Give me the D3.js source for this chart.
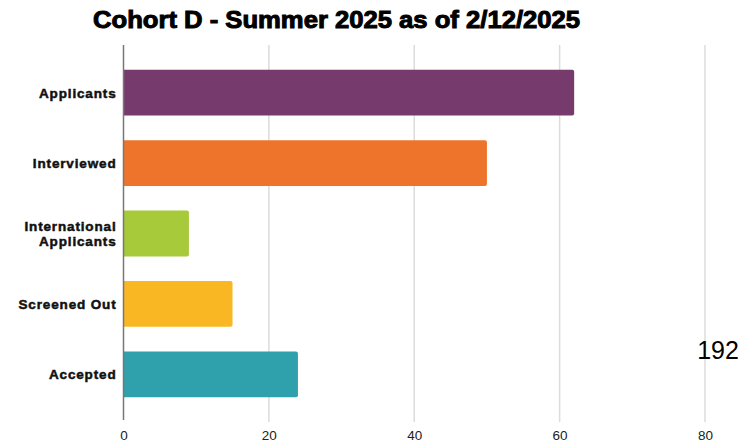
<!DOCTYPE html>
<html>
<head>
<meta charset="utf-8">
<script src="https://cdn.jsdelivr.net/npm/d3@7"></script>
<style>
    body { margin: 0; background: #fff; }
    svg { display: block; }
</style>
</head>
<body>
<div id="chart"></div>
<script>
// Chart data
const categories = ['Applicants', 'Interviewed', 'International Applicants', 'Screened Out', 'Accepted'];
const values = [62, 50, 9, 15, 24];
const barColors = ['#773A6C', '#EF742B', '#A7CA3B', '#FAB724', '#2EA1AC'];
const xTicks = [0, 20, 40, 60, 80];
const titleText = 'Cohort D - Summer 2025 as of 2/12/2025';
const cornerNote = '192';

const width = 742;
const height = 443;
const margin = { top: 45, right: 37, bottom: 21, left: 123.5 };

const svg = d3.select('#chart')
    .append('svg')
    .attr('width', width)
    .attr('height', height);

// Scales
const x = d3.scaleLinear()
    .domain([0, 80])
    .range([margin.left, width - margin.right]);

const y = d3.scaleBand()
    .domain(categories)
    .range([margin.top, height - margin.bottom])
    .padding(0.35);

// Grid
svg.append('g')
    .selectAll('line')
    .data(xTicks.filter(d => d !== 0))
    .join('line')
    .attr('x1', d => x(d))
    .attr('x2', d => x(d))
    .attr('y1', margin.top)
    .attr('y2', height - margin.bottom)
    .attr('stroke', '#dcdcdc')
    .attr('stroke-width', 1.5);

// Bars, rounded on the right end only
const r = 2;
svg.append('g')
    .selectAll('path')
    .data(values)
    .join('path')
    .attr('fill', (d, i) => barColors[i])
    .attr('d', (d, i) => {
        const x0 = x(0), x1 = x(d);
        const y0 = y(categories[i]), h = y.bandwidth();
        return `M${x0},${y0}H${x1 - r}Q${x1},${y0} ${x1},${y0 + r}` +
            `V${y0 + h - r}Q${x1},${y0 + h} ${x1 - r},${y0 + h}H${x0}Z`;
    });

// Zero axis line
svg.append('line')
    .attr('x1', x(0))
    .attr('x2', x(0))
    .attr('y1', margin.top)
    .attr('y2', height - margin.bottom - 2)
    .attr('stroke', '#777')
    .attr('stroke-width', 1.5);

// X axis tick labels
svg.append('g')
    .attr('transform', `translate(0,${height - margin.bottom})`)
    .call(d3.axisBottom(x).tickValues(xTicks).tickSize(0).tickPadding(8))
    .call(g => g.select('.domain').remove())
    .selectAll('text')
    .attr('font-family', '"Liberation Sans", Arial, sans-serif')
    .attr('font-size', 13.5)
    .attr('fill', '#222');

// Category labels
const labels = svg.append('g')
    .selectAll('text')
    .data(categories)
    .join('text')
    .attr('text-anchor', 'end')
    .attr('font-family', '"Liberation Sans", Arial, sans-serif')
    .attr('font-weight', 'bold')
    .attr('font-size', 13.5)
    .attr('letter-spacing', 0.85)
    .attr('fill', '#111')
    .attr('stroke', '#111')
    .attr('stroke-width', 0.5);

labels.each(function(d) {
    const cy = y(d) + y.bandwidth() / 2;
    const words = d === 'International Applicants' ? ['International', 'Applicants'] : [d];
    const t = d3.select(this);
    words.forEach((w, k) => {
        t.append('tspan')
            .attr('x', x(0) - 7)
            .attr('y', cy + 5 + (k - (words.length - 1) / 2) * 14.5)
            .text(w);
    });
});

// Title
svg.append('text')
    .attr('x', 336.5)
    .attr('y', 28)
    .attr('text-anchor', 'middle')
    .attr('font-family', '"Liberation Sans", Arial, sans-serif')
    .attr('font-weight', 'bold')
    .attr('font-size', 24)
    .attr('textLength', 487)
    .attr('lengthAdjust', 'spacingAndGlyphs')
    .attr('fill', '#000')
    .attr('stroke', '#000')
    .attr('stroke-width', 1)
    .text(titleText);

// Stray value note
svg.append('text')
    .attr('x', 718)
    .attr('y', 359)
    .attr('text-anchor', 'middle')
    .attr('font-family', '"Liberation Sans", Arial, sans-serif')
    .attr('font-size', 25)
    .attr('fill', '#000')
    .text(cornerNote);
</script>
</body>
</html>
